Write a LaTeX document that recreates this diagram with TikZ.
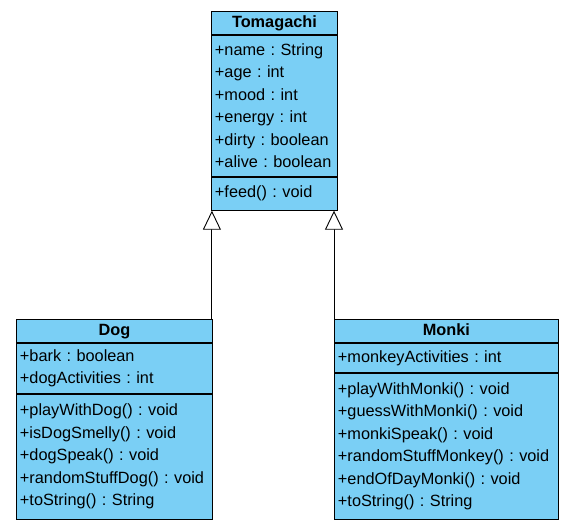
\documentclass[tikz,border=0pt]{standalone}
\usepackage{fontspec}
\setmainfont{Liberation Sans}
\usetikzlibrary{arrows.meta}
\definecolor{umlfill}{RGB}{122,207,245}
\tikzset{
  comp/.style={draw=black, fill=umlfill, line width=0.9bp, anchor=north west,
    inner xsep=3.5bp, inner ysep=0pt, align=left,
    font=\fontsize{16.3bp}{22.5bp}\selectfont\frenchspacing},
  hdr/.style={comp, align=center, text height=11.8bp, text depth=3.4bp,
    font=\fontsize{16.3bp}{22.5bp}\selectfont\bfseries},
  inh/.style={draw=black, line width=0.9bp, -{Triangle[open, length=19bp, width=18bp, fill=white]}}
}
\begin{document}
\begin{tikzpicture}[x=1bp,y=-1bp]
\useasboundingbox[fill=white] (0,0) rectangle (566,531);
% Tomagachi
\node[hdr, text width=119bp, minimum height=23bp] (tomH) at (211,11) {Tomagachi};
\node[comp, text width=119bp, minimum height=141bp] (tomA) at (tomH.south west)
  {+name : String\\+age : int\\+mood : int\\+energy : int\\+dirty : boolean\\+alive : boolean};
\node[comp, text width=119bp, minimum height=33bp] (tomM) at (tomA.south west) {+feed() : void};
% Dog
\node[hdr, text width=189bp, minimum height=23bp] (dogH) at (16,319) {Dog};
\node[comp, text width=189bp, minimum height=50bp] (dogA) at (dogH.south west)
  {+bark : boolean\\+dogActivities : int};
\node[comp, text width=189bp, minimum height=125bp] (dogM) at (dogA.south west)
  {+playWithDog() : void\\+isDogSmelly() : void\\+dogSpeak() : void\\+randomStuffDog() : void\\+toString() : String};
% Monki
\node[hdr, text width=217bp, minimum height=23bp] (monH) at (334,319) {Monki};
\node[comp, text width=217bp, minimum height=29bp] (monA) at (monH.south west)
  {+monkeyActivities : int};
\node[comp, text width=217bp, minimum height=146bp] (monM) at (monA.south west)
  {+playWithMonki() : void\\+guessWithMonki() : void\\+monkiSpeak() : void\\+randomStuffMonkey() : void\\+endOfDayMonki() : void\\+toString() : String};
% inheritance
\draw[inh] ([xshift=-1bp]dogH.north east) -- ([xshift=-1bp]dogH.north east |- tomM.south);
\draw[inh] (monH.north west) -- (monH.north west |- tomM.south);
\end{tikzpicture}
\end{document}
